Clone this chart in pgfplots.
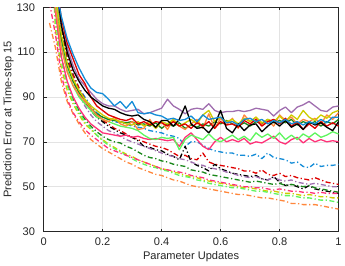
\documentclass[border=0pt]{standalone}
\usepackage{pgfplots}
\pgfplotsset{compat=1.18}
\usepackage{pgfplotstable}
\usepackage{fontspec}
\setmainfont{Liberation Sans}
\definecolor{cB}{RGB}{20,140,215}
\definecolor{cR}{RGB}{222,0,0}
\definecolor{cK}{RGB}{0,0,0}
\definecolor{cP}{RGB}{160,110,175}
\definecolor{cY}{RGB}{205,205,0}
\definecolor{cO}{RGB}{255,135,60}
\definecolor{cG}{RGB}{25,135,25}
\definecolor{cL}{RGB}{95,245,95}
\definecolor{cM}{RGB}{255,50,120}
\definecolor{axgray}{RGB}{38,38,38}
\pgfplotstableread{
x Sb Sr Sk Sp Sy So Sg Sl Sm Db Dr Dk Dp Dy Do Dg Dl Dm
0.02 175 175 175 175 175 175 175 175 175 175 175 175 175 175 123 175 175 132
0.04 140 145 145 140 135 130 138 132 128 142 145 142 140 120 112 128 124 118
0.06 126 125 122 122 118 112 116 113 108 120 121 119 118 103 97 108 106 100
0.08 116 114 110 112 105 101 104 102 97 108 108 106 105 93 88 96 95 89
0.10 109 107 102 104 98 95 97 95 90 100 100 98 97 87 82.5 89 88 83
0.12 103 100 97 98 93 91 92 90 85 94 94 92 91 82 78 84 83 79
0.14 98 96 93 95 89 88 88 87 81 90 89 88 86 78 74 80 79 75.5
0.16 94 90 90 92 86 85 85 84 78 86 85 84 82 75.5 71 77 76 73
0.18 92 86 88 89 84 82 82.5 81 76 83 82 81 79 73 69 74.5 73 71
0.20 91.5 84 86 87 82 80 81 80 74 81 79.5 79 77 71 67 72.5 70.5 69
0.22 89 82 85 86 80.5 79 80 79 73.5 80 78 77 75 69 65.5 71 68.5 67
0.24 86 81 84.5 86 80 81 79.5 78 73 79 76 75.5 74 67.5 64 70 67 66
0.26 88 80 83 84.5 79 78 79 77 72.5 78.5 75 74 72.5 66 62.5 69.5 65.5 65
0.28 85 79.5 82 83.5 78 77 78.5 76.5 73 78 73.5 73 71 64.5 61 68 64 64
0.30 88 80.5 81.5 84 77.5 79 79 76 72 77 72 72 70 63.5 60 67 62.5 63
0.32 83 78 82 84.5 79 75.5 77.5 75 72.5 76.5 71 70.5 69 62 58.5 65.5 61 62
0.34 82.5 79 80 82.5 77 76 78 73 71.5 76 70 68 68 61 57.5 64 60 61
0.36 83 77.5 79 83 78.5 80 77 71.5 71 75 69 67.5 67 60 56.5 63 59 60
0.38 82 79 76.5 84 76 76 78.5 71 71.5 74.5 68 66.5 66 59 55.5 62.5 58.5 59
0.40 81.5 78.5 79.5 85 79 79 76 72 71 74 67.5 66 65 58 55 61.5 57.5 58
0.42 80 77 79.5 89 78 75.5 78 71.5 70.5 73 66.5 64.5 64 57.5 54 61 57 57.5
0.44 80.5 79 77 86 80 80 77 72 71 72.5 65 63.5 63.5 56.5 53 60 56 57
0.46 79.5 77 80 84.5 77 77 78.5 66.5 68 71.5 63.5 62 62.5 56 52.5 59.5 55 56.5
0.48 80 78 86 82.5 78.5 75.5 76 71 72 68 64 68 62 55 51.5 59 54.5 56
0.50 81.5 76 78 84.5 80 78 77.5 73 74 70 62.5 61 61 54.5 50.5 57.5 54 55
0.52 79 78.5 76 85 78 80 76.5 72 71 70 62 59.5 60 54 50 57 53 54.5
0.54 82 77 76.5 84.5 82 76 78 71 68 68.5 65 58.5 59.5 53 49.5 56.5 52.5 54
0.56 80 79 74 87 84 82.5 77 73.5 66.5 67 61 57 58.5 52.5 49 55.5 51.5 53
0.58 80.5 76 77.5 84 79 76 79 71 70 66 60 60 58 52 48.5 55 51 52.5
0.60 81 79 84 83 81 80.5 78 70 72 65.5 59.5 58 57.5 51.5 48 54.5 50.5 52
0.62 78.5 77.5 76 83.5 79 77.5 79.5 71.5 70 65 59 57 56.5 51 47.5 54 50 51.5
0.64 79 78 74 83.5 80 80.5 78 73 71 65 58.5 56 56 50.5 47 53.5 49.5 51
0.66 77.5 76.5 78 84 78 76 77 71 70 64 58 55.5 55 50 46.5 53 49.5 50.5
0.68 80 79.5 75 83.5 80.5 82 78.5 72.5 71.5 64 57 55 54.5 49.5 46.5 52.5 49 50
0.70 80.5 78 77.5 84 79 79 77 70.5 69 63.5 57 54.5 54 49.5 46 52 48.5 50
0.72 79 80 78 85 81 81 79 74 70 64.5 56 55 54.5 49 45.5 52.5 48 49.5
0.74 80 77 74.5 84.5 78.5 77.5 78 72 69.5 62.5 57.5 53.5 53.5 48.5 45 52 48 49.5
0.76 78 79 77 84 80 79.5 80 73.5 71 65 55.5 53 53 48 45 51.5 47.5 49
0.78 79.5 80 79 81.5 79 77 78.5 71.5 72.5 63 55 54.5 54 48 44.5 51 47 48.5
0.80 78.5 78 77 84 81.5 82 79.5 74 70 62.5 56 52 53 47.5 44 51.5 46.5 49
0.82 80 80.5 79.5 85.5 79 79.5 78.5 71 69 62 54.5 50.5 52.5 47 43.5 50.5 46 48.5
0.84 78 77 76.5 83 82 81 80 73 71 60.5 55 51 53 47 42.5 51 46 48
0.86 79 79 78 85.5 80 78 77.5 71 72 61 54 50 52 46.5 42.5 50.5 45.5 48
0.88 77.5 75.5 75.5 86.5 84 80 79 73.5 69.5 59 53.5 49 51.5 46 42 50 45 47.5
0.90 79 78 79 88 81 79 78 72 71.5 58.5 53 50.5 51 46.5 42 50.5 45 47.5
0.92 78 76 77.5 86 79.5 80.5 79 74 70 60.5 54 49 51.5 46 42 49.5 44.5 47
0.94 80 79 78.5 84 82 78 77 72 71 59 53 48.5 51 45.5 41.5 49 44 47.5
0.96 78.5 77 76.5 83.5 80.5 82 79 73 70 59.5 52 48 50.5 45.5 41 48.5 44 47
0.98 81 78.5 75 85.5 83 80 78 74.5 70.5 59.5 51.5 47.5 50 45 40.5 48 43.5 47
1.00 81 77 79 86 84 83 80 73.5 70 60 51 47 50 45 40 47.5 43 47
}\datatable
\begin{document}
\begin{tikzpicture}
\begin{axis}[
  scale only axis,
  width=292bp, height=222bp,
  xmin=0, xmax=1, ymin=30, ymax=130,
  xtick={0,0.2,0.4,0.6,0.8,1},
  ytick={30,50,70,90,110,130},
  xticklabels={0,0.2,0.4,0.6,0.8,1},
  yticklabels={30,50,70,90,110,130},
  grid=major,
  major grid style={draw=gray!22, line width=0.5pt},
  tick align=inside,
  xtick pos=both, ytick pos=both,
  major tick length=3pt,
  axis line style={draw=axgray, line width=0.6pt},
  every tick/.style={draw=axgray, line width=0.5pt},
  tick label style={font=\fontsize{11}{13}\selectfont, text=axgray},
  yticklabel style={xshift=-5pt},
  xticklabel style={yshift=-3pt},
  label style={font=\fontsize{11}{13}\selectfont, text=axgray},
  xlabel={Parameter Updates},
  ylabel={Prediction Error at Time-step 15},
  xlabel style={yshift=1pt},
  ylabel style={yshift=-4pt},
  every axis plot/.append style={line width=1.3pt, line join=round},
  /pgf/number format/assume math mode=true,
]
\addplot[cB, dash pattern=on 5pt off 2.5pt on 1.2pt off 2.5pt] table[x=x,y=Db]{\datatable};
\addplot[cR, dash pattern=on 5pt off 2.5pt on 1.2pt off 2.5pt] table[x=x,y=Dr]{\datatable};
\addplot[cK, dash pattern=on 5pt off 2.5pt on 1.2pt off 2.5pt] table[x=x,y=Dk]{\datatable};
\addplot[cP, dash pattern=on 5pt off 2.5pt on 1.2pt off 2.5pt] table[x=x,y=Dp]{\datatable};
\addplot[cY, dash pattern=on 5pt off 2.5pt on 1.2pt off 2.5pt] table[x=x,y=Dy]{\datatable};
\addplot[cO, dash pattern=on 5pt off 2.5pt on 1.2pt off 2.5pt] table[x=x,y=Do]{\datatable};
\addplot[cG, dash pattern=on 5pt off 2.5pt on 1.2pt off 2.5pt] table[x=x,y=Dg]{\datatable};
\addplot[cL, dash pattern=on 5pt off 2.5pt on 1.2pt off 2.5pt] table[x=x,y=Dl]{\datatable};
\addplot[cM, dash pattern=on 5pt off 2.5pt on 1.2pt off 2.5pt] table[x=x,y=Dm]{\datatable};
\addplot[cM] table[x=x,y=Sm]{\datatable};
\addplot[cL] table[x=x,y=Sl]{\datatable};
\addplot[cG] table[x=x,y=Sg]{\datatable};
\addplot[cO] table[x=x,y=So]{\datatable};
\addplot[cY] table[x=x,y=Sy]{\datatable};
\addplot[cP] table[x=x,y=Sp]{\datatable};
\addplot[cR] table[x=x,y=Sr]{\datatable};
\addplot[cK] table[x=x,y=Sk]{\datatable};
\addplot[cB] table[x=x,y=Sb]{\datatable};
\end{axis}
\end{tikzpicture}
\end{document}
